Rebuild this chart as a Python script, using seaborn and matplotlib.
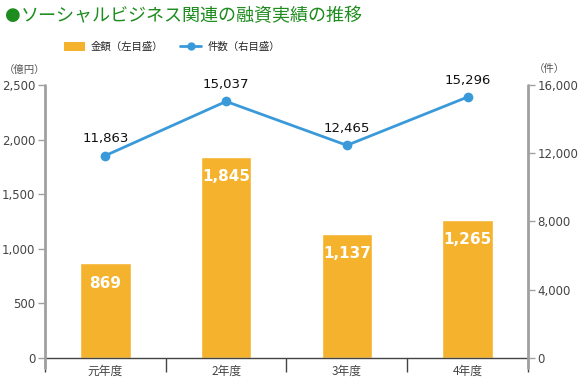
import matplotlib
matplotlib.use("Agg")
import matplotlib.pyplot as plt
import seaborn as sns
import pandas as pd
from matplotlib.lines import Line2D
from matplotlib.patches import Patch
from matplotlib.ticker import FuncFormatter, FixedLocator

categories = ["元年度", "2年度", "3年度", "4年度"]
amounts = [869, 1845, 1137, 1265]          # 金額 (億円)
counts = [11863, 15037, 12465, 15296]      # 件数
left_ticks = [0, 500, 1000, 1500, 2000, 2500]
right_ticks = [0, 4000, 8000, 12000, 16000]

sns.set_theme(style="white")
plt.rcParams['font.family'] = ['DejaVu Sans', 'Noto Sans CJK JP']
JP = ['Noto Sans CJK JP', 'DejaVu Sans']

BAR = "#F5B32D"
LINE = "#3A9AD9"
AXGRAY = "#A0A0A0"
TXT = "#444444"

df = pd.DataFrame({"cat": categories, "amount": amounts, "count": counts, "pos": range(4)})

fig = plt.figure(figsize=(5.85, 3.86), dpi=100)
ax = fig.add_axes([45/585, 1-358/386, (528-45)/585, (358-85)/386])
sns.barplot(data=df, x="cat", y="amount", color=BAR, width=0.42, ax=ax, saturation=1)
ax.set_xlim(-0.5, 3.5)
ax.set_ylim(0, 2500)
ax.set_xlabel("")
ax.set_ylabel("")

ax2 = ax.twinx()
sns.lineplot(data=df, x="pos", y="count", color=LINE, lw=2, marker="o",
             markersize=7, markeredgewidth=0, ax=ax2)
ax2.set_ylim(0, 16000)
ax2.set_xlim(-0.5, 3.5)
ax2.set_ylabel("")
ax2.set_xlabel("")

fmt = FuncFormatter(lambda v, p: f"{int(v):,}")
ax.yaxis.set_major_locator(FixedLocator(left_ticks))
ax.yaxis.set_major_formatter(fmt)
ax2.yaxis.set_major_locator(FixedLocator(right_ticks))
ax2.yaxis.set_major_formatter(fmt)

for a in (ax, ax2):
    for s in a.spines.values():
        s.set_visible(False)
    a.grid(False)

ax.tick_params(axis="y", direction="out", length=5, width=1, color=AXGRAY,
               labelsize=8.5, labelcolor=TXT, pad=2, left=True)
ax2.tick_params(axis="y", direction="out", length=5, width=1, color=AXGRAY,
                labelsize=8.5, labelcolor=TXT, pad=2, right=True)

# x axis: labels at categories, tick marks at boundaries
ax.set_xticks(range(4))
ax.set_xticklabels(categories, family=JP)
ax.tick_params(axis="x", which="major", length=0, labelsize=8.5, labelcolor=TXT, pad=5)
ax.set_xticks([-0.5, 0.5, 1.5, 2.5, 3.5], minor=True)
ax.tick_params(axis="x", which="minor", direction="out", length=10, width=1,
               color="#444444", bottom=True)
ax2.tick_params(axis="x", which="both", bottom=False, labelbottom=False)

# baseline and vertical axis lines
ax.spines["bottom"].set_visible(True)
ax.spines["bottom"].set_color("#444444")
ax.spines["bottom"].set_linewidth(1)
for xa in (0, 1):
    ax.add_line(Line2D([xa, xa], [-10/273, 1.0], transform=ax.transAxes,
                       color=AXGRAY, lw=2, clip_on=False, zorder=5))

# bar labels
for i, v in enumerate(amounts):
    ax.annotate(f"{v:,}", (i, v), xytext=(0, -20), textcoords="offset pixels",
                ha="center", va="center", color="white", fontsize=11, fontweight="bold")
# line labels
for i, v in enumerate(counts):
    ax2.annotate(f"{v:,}", (i, v), xytext=(0, 17), textcoords="offset pixels",
                 ha="center", va="center", color="#111111", fontsize=9.5)

# title
fig.text(5/585, 1-15/386, "●", color="#1E8C1E", fontsize=13, ha="left", va="center",
         family=['DejaVu Sans'])
fig.text(21/585, 1-16/386, "ソーシャルビジネス関連の融資実績の推移", color="#1E8C1E",
         fontsize=13, ha="left", va="center", family=JP)

# unit labels
fig.text(25/585, 1-70/386, "（億円）", fontsize=7.5, color="#555555", ha="center", va="center",
         family=JP)
fig.text(549/585, 1-69/386, "（件）", fontsize=7.5, color="#555555", ha="center", va="center",
         family=JP)

# legend
handles = [Patch(facecolor=BAR, edgecolor="none", label="金額（左目盛）"),
           Line2D([0], [0], color=LINE, lw=2, marker="o", markersize=6, markeredgewidth=0,
                  label="件数（右目盛）")]
fig.legend(handles=handles, loc="center", bbox_to_anchor=(172/585, 1-47/386), ncol=2,
           frameon=False, prop={"family": JP, "size": 7.5},
           handlelength=2.0, handleheight=0.9, columnspacing=1.6, handletextpad=0.6)

fig.savefig("out.png", dpi=100)
